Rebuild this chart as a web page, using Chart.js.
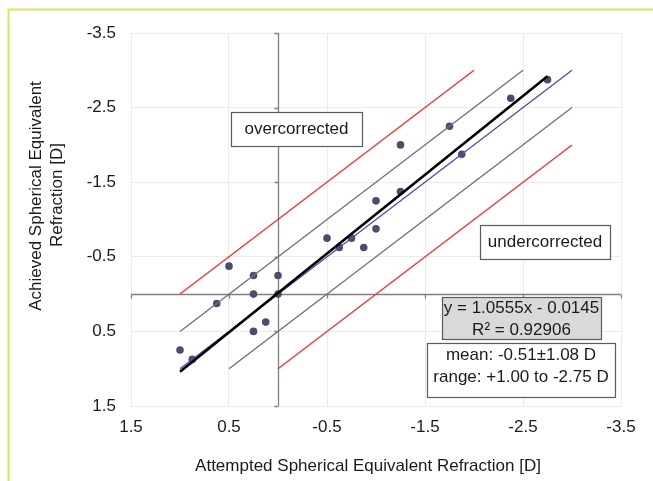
<!DOCTYPE html>
<html><head><meta charset="utf-8">
<script src="https://cdn.jsdelivr.net/npm/chart.js@4/dist/chart.umd.min.js"></script>
<style>html,body{margin:0;padding:0;background:#fff;overflow:hidden}canvas{display:block}</style>
</head><body>
<canvas id="c" width="653" height="481"></canvas>
<script>
// ---- data ----
const attempted = [1.0, 0.875, 0.625, 0.5, 0.25, 0.25, 0.25, 0.125, 0, 0, -0.5, -0.625, -0.75, -0.875, -1.0, -1.0, -1.25, -1.25, -1.75, -1.875, -2.375, -2.75];
const achieved  = [0.75, 0.875, 0.125, -0.375, -0.25, 0, 0.5, 0.375, -0.25, 0, -0.75, -0.625, -0.75, -0.625, -0.875, -1.25, -1.375, -2.0, -2.25, -1.875, -2.625, -2.875];
const xTicks = [1.5, 0.5, -0.5, -1.5, -2.5, -3.5];
const yTicks = [-3.5, -2.5, -1.5, -0.5, 0.5, 1.5];
const trendX = [1.0, -2.75],     trendY = [1.04, -2.92];
const identityX = [1.0, -3.0],   identityY = [1.0, -3.0];
const halfOverX = [1.0, -2.5],   halfOverY = [0.5, -3.0];
const halfUnderX = [0.5, -3.0],  halfUnderY = [1.0, -2.5];
const oneOverX = [1.0, -2.0],    oneOverY = [0.0, -3.0];
const oneUnderX = [0.0, -3.0],   oneUnderY = [1.0, -2.0];
const xTitle = 'Attempted Spherical Equivalent Refraction [D]';
const yTitle = ['Achieved Spherical Equivalent', 'Refraction [D]'];
const labelOver = 'overcorrected';
const labelUnder = 'undercorrected';
const eqText = ['y = 1.0555x - 0.0145', 'R² = 0.92906'];
const statText = ['mean: -0.51±1.08 D', 'range: +1.00 to -2.75 D'];

// ---- helpers ----
const FONT_FAMILY = "'Liberation Sans', Arial, sans-serif";
const FONT = "17px " + FONT_FAMILY;
const pts = (xs, ys) => xs.map((x, i) => ({x: x, y: ys[i]}));
function lineDs(xs, ys, color, width, order) {
  return {type: 'line', data: pts(xs, ys), borderColor: color, borderWidth: width,
          pointRadius: 0, showLine: true, fill: false, order: order, tension: 0};
}

const decor = {
  id: 'decor',
  beforeDraw(chart) {
    const ctx = chart.ctx;
    ctx.save();
    ctx.strokeStyle = '#dfe35e';
    ctx.lineWidth = 2;
    ctx.beginPath();
    ctx.moveTo(8.5, 481); ctx.lineTo(8.5, 9.5); ctx.lineTo(653, 9.5);
    ctx.stroke();
    ctx.restore();
  },
  beforeDatasetsDraw(chart) {
    const ctx = chart.ctx, a = chart.chartArea;
    const xs = chart.scales.x, ys = chart.scales.y;
    const x0 = Math.round(xs.getPixelForValue(0)) + 0.5;
    const y0 = Math.round(ys.getPixelForValue(0)) + 0.5;
    ctx.save();
    ctx.strokeStyle = '#808080';
    ctx.lineWidth = 1.3;
    ctx.beginPath();
    ctx.moveTo(x0, a.top); ctx.lineTo(x0, a.bottom);
    ctx.moveTo(a.left, y0); ctx.lineTo(a.right, y0);
    yTicks.forEach(v => { const p = Math.round(ys.getPixelForValue(v)) + 0.5; ctx.moveTo(x0 - 4, p); ctx.lineTo(x0, p); });
    xTicks.forEach(v => { const p = Math.round(xs.getPixelForValue(v)) + 0.5; ctx.moveTo(p, y0); ctx.lineTo(p, y0 + 4); });
    ctx.stroke();
    ctx.restore();
  },
  afterDraw(chart) {
    const ctx = chart.ctx;
    ctx.save();
    ctx.font = FONT;
    ctx.fillStyle = '#1a1a1a';
    ctx.textAlign = 'center';
    ctx.textBaseline = 'middle';
    // x title
    ctx.fillText(xTitle, 368, 466);
    // y title
    ctx.save();
    ctx.rotate(-Math.PI / 2);
    ctx.fillText(yTitle[0], -196, 36);
    ctx.fillText(yTitle[1], -195, 57);
    ctx.restore();
    function box(x1, y1, x2, y2, fill, lines, cy, gap) {
      ctx.fillStyle = fill;
      ctx.fillRect(x1, y1, x2 - x1, y2 - y1);
      ctx.strokeStyle = '#5a5a5a';
      ctx.lineWidth = 1.2;
      ctx.strokeRect(x1 + 0.5, y1 + 0.5, x2 - x1, y2 - y1);
      ctx.fillStyle = '#1a1a1a';
      const cx = (x1 + x2) / 2;
      lines.forEach((t, i) => ctx.fillText(t, cx, cy + i * gap));
    }
    box(231, 112, 362, 146, '#ffffff', [labelOver], 129.5, 0);
    box(480, 225, 610, 259, '#ffffff', [labelUnder], 242.5, 0);
    box(442, 297, 601, 339, '#d9d9d9', eqText, 308.5, 21.5);
    box(427, 343, 615, 397, '#ffffff', statText, 355.5, 22);
    ctx.restore();
  }
};

new Chart(document.getElementById('c'), {
  type: 'scatter',
  data: {
    datasets: [
      {type: 'scatter', data: pts(attempted, achieved), backgroundColor: '#4a4e6a', borderColor: '#4a4e6a',
       pointRadius: 3.8, pointHoverRadius: 3.8, borderWidth: 0, order: 10},
      lineDs(oneOverX, oneOverY, '#ff2b2b', 1.3, 5),
      lineDs(oneUnderX, oneUnderY, '#ff2b2b', 1.3, 5),
      lineDs(halfOverX, halfOverY, '#6a6d86', 1.3, 4),
      lineDs(halfUnderX, halfUnderY, '#6a6d86', 1.3, 4),
      lineDs(identityX, identityY, '#4b4bb0', 1.3, 3),
      lineDs(trendX, trendY, '#000000', 2.6, 1)
    ]
  },
  options: {
    responsive: false,
    animation: false,
    devicePixelRatio: 1,
    plugins: {legend: {display: false}, tooltip: {enabled: false}, title: {display: false}},
    layout: {padding: {left: 0, top: 33, right: 32, bottom: 0}},
    scales: {
      x: {
        type: 'linear', reverse: true, min: -3.5, max: 1.5,
        afterBuildTicks: s => { s.ticks = xTicks.map(v => ({value: v})); },
        afterFit: s => { s.height = 75; },
        grid: {color: '#ebebeb', lineWidth: 1, drawTicks: false},
        border: {display: false},
        ticks: {padding: 11, color: '#1a1a1a', font: {family: FONT_FAMILY, size: 17}, maxRotation: 0,
                callback: v => v.toFixed(1)}
      },
      y: {
        type: 'linear', reverse: true, min: -3.5, max: 1.5,
        afterBuildTicks: s => { s.ticks = yTicks.map(v => ({value: v})); },
        afterFit: s => { s.width = 131; },
        grid: {color: '#ebebeb', lineWidth: 1, drawTicks: false},
        border: {display: false},
        ticks: {padding: 15, color: '#1a1a1a', font: {family: FONT_FAMILY, size: 17},
                callback: v => v.toFixed(1)}
      }
    }
  },
  plugins: [decor]
});
</script>
</body></html>
